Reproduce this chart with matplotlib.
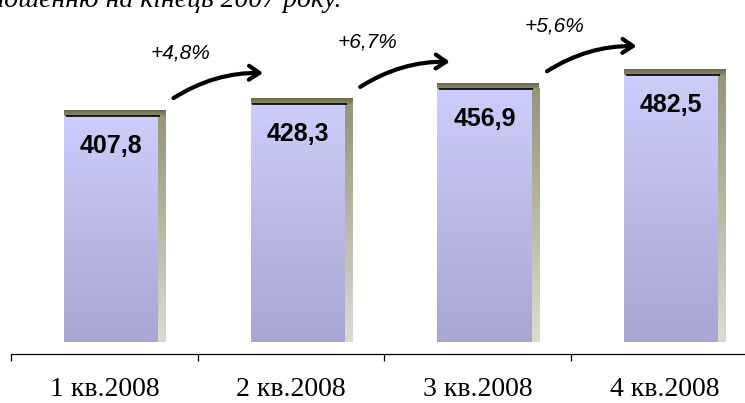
import numpy as np
import matplotlib
matplotlib.use("Agg")
import matplotlib.pyplot as plt
from matplotlib.colors import LinearSegmentedColormap
from matplotlib.patches import FancyArrowPatch

# data
quarters = ["1 кв.2008", "2 кв.2008", "3 кв.2008", "4 кв.2008"]
values = [407.8, 428.3, 456.9, 482.5]
value_labels = ["407,8", "428,3", "456,9", "482,5"]
growth = ["+4,8%", "+6,7%", "+5,6%"]
title_tail = "по відношенню на кінець 2007 року."

#colour maps for the pseudo-3d bars
face_cmap = LinearSegmentedColormap.from_list("face", ["#A8A6D2", "#CDCDFB"])
side_cmap = LinearSegmentedColormap.from_list("side", ["#DCDCD0", "#96947A"])
cap_cmap = LinearSegmentedColormap.from_list("cap", ["#8E8C6E", "#6C6A4C"])
grad = np.linspace(0, 1, 256).reshape(-1, 1)

px_per_unit = 0.547  # pixels per value unit
ymin = -6
fig = plt.figure(figsize=(7.45, 4.03), dpi=100)
ax = fig.add_axes([11 / 745, 61 / 403, 747 / 745, 342 / 403])

bar_w = 0.505
shift = 0.035
side_w = 0.038
cap_h = 6 / px_per_unit

x = np.arange(len(values))
for i, v in enumerate(values):
    x0 = x[i] + shift - bar_w / 2
    x1 = x0 + bar_w
    ax.imshow(grad, extent=[x0, x1, ymin, v], origin="lower", aspect="auto",
              cmap=face_cmap, zorder=2)
    ax.imshow(grad, extent=[x1, x1 + side_w, ymin, v], origin="lower", aspect="auto",
              cmap=side_cmap, zorder=2)
    ax.imshow(grad, extent=[x0, x1 + side_w, v, v + cap_h], origin="lower",
              aspect="auto", cmap=cap_cmap, zorder=3)
    ax.plot([x0 + 0.01, x1 + 0.01], [v, v], color="black", lw=1.2, zorder=4,
            solid_capstyle="butt")
    ax.text(x[i] + shift, v - 30 / px_per_unit, value_labels[i], ha="center",
            va="center", fontsize=18, fontweight="bold",
            family="Liberation Sans", zorder=5)

#growth arrows between bars
for i, g in enumerate(growth):
    start = (x[i] + 0.37, values[i] + 32)
    end = (x[i] + 0.85, values[i] + 78)
    arr = FancyArrowPatch(start, end, connectionstyle="arc3,rad=-0.15",
                          arrowstyle="->,head_length=0.75,head_width=0.5",
                          mutation_scale=10, lw=3, color="black", zorder=5,
                          shrinkA=0, shrinkB=0)
    ax.add_patch(arr)
    ax.text(x[i] + 0.41, values[i] + 115, g, ha="center", va="center",
            fontsize=15, fontstyle="italic", family="Liberation Sans")

ax.set_xlim(-0.5, len(values) - 0.5)
ax.set_ylim(ymin, ymin + 342 / px_per_unit)

for s in ["left", "right", "top"]:
    ax.spines[s].set_visible(False)
ax.spines["bottom"].set_position(("outward", 8.6))
ax.spines["bottom"].set_linewidth(0.9)
ax.set_yticks([])
ax.set_xticks(np.arange(len(values) + 1) - 0.5)
ax.set_xticklabels([])
ax.set_xticks(x, minor=True)
ax.set_xticklabels(quarters, minor=True, fontsize=20, family="Liberation Serif")
ax.tick_params(axis="x", which="major", direction="out", length=5, width=0.9)
ax.tick_params(axis="x", which="minor", length=0, pad=16.5)

#cut-off subtitle line at the very top
fig.text(342 / 745, 1 - 7 / 403, title_tail, ha="right", va="baseline",
         fontsize=20, fontstyle="italic", family="Liberation Serif")

fig.savefig("out.png", dpi=100)
